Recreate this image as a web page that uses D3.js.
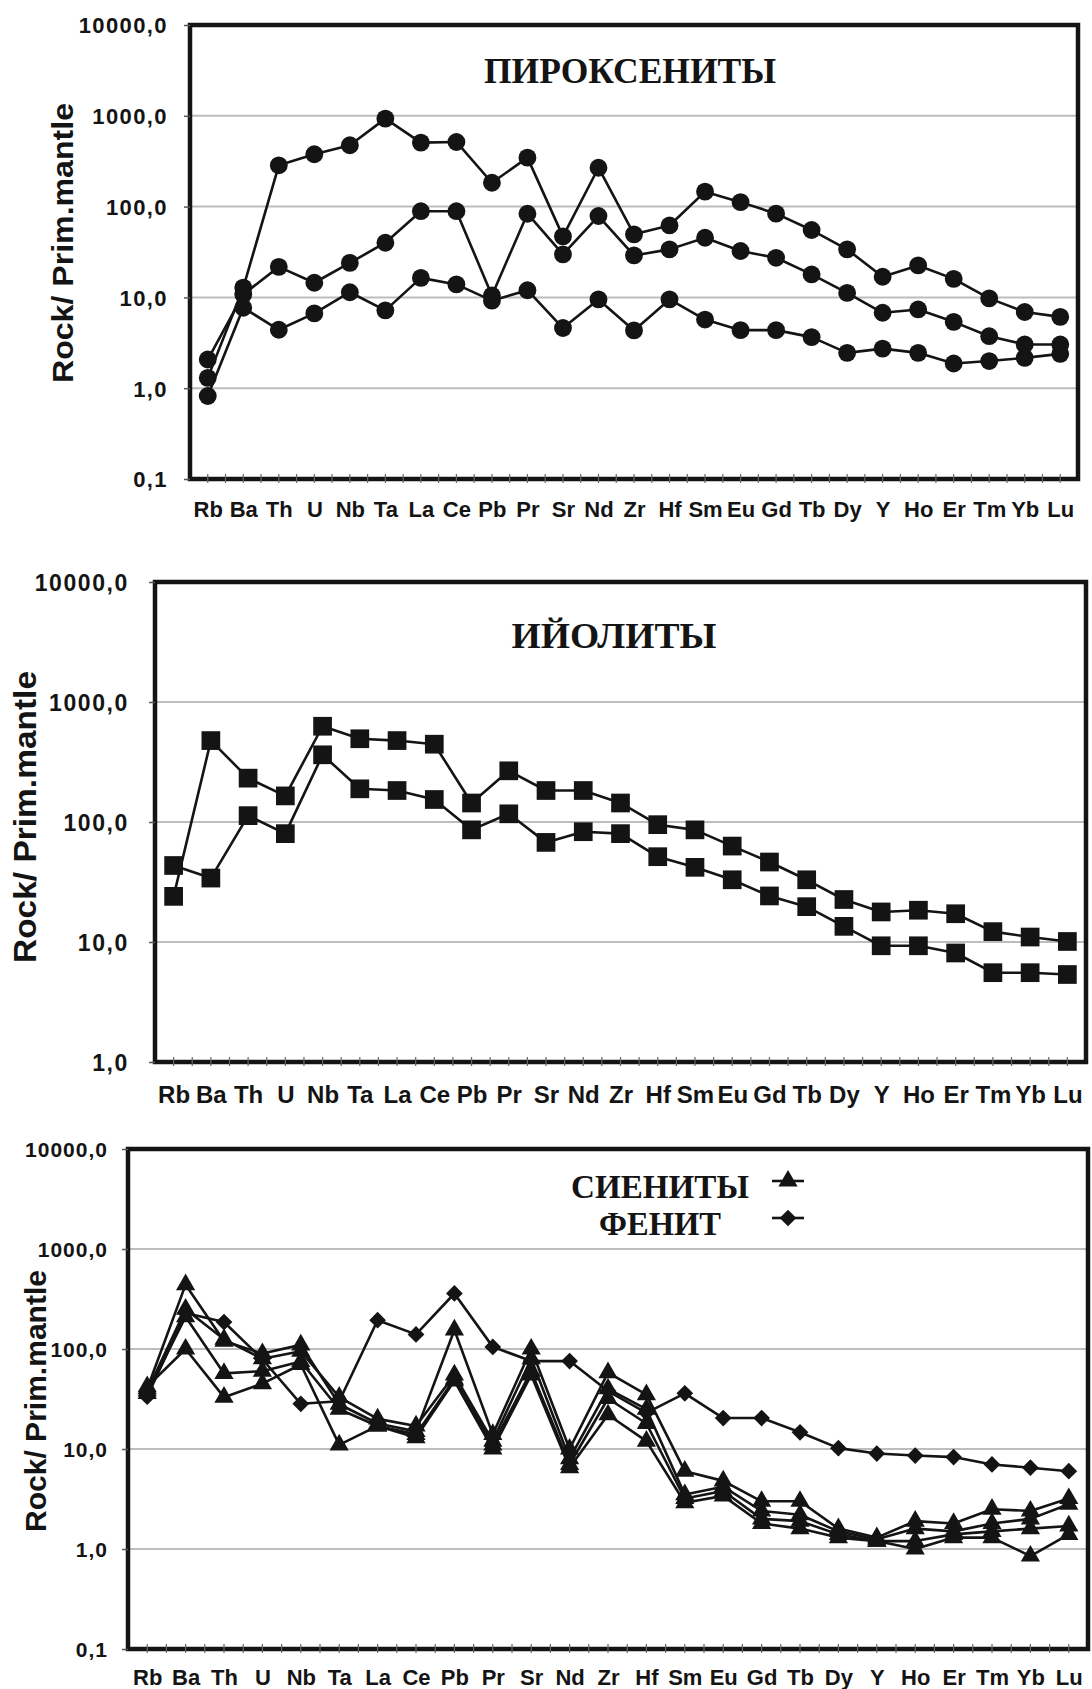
<!DOCTYPE html>
<html><head><meta charset="utf-8">
<script src="https://cdn.jsdelivr.net/npm/d3@7"></script>
<style>
body{margin:0;background:#fff}
svg{display:block}
</style>
</head><body>
<svg id="chart" width="1092" height="1689"></svg>
<script>
// Spider diagrams: trace elements normalised to primitive mantle
const categories = ["Rb","Ba","Th","U","Nb","Ta","La","Ce","Pb","Pr","Sr","Nd","Zr","Hf","Sm","Eu","Gd","Tb","Dy","Y","Ho","Er","Tm","Yb","Lu"];

// Pyroxenites
const pyroxeniteA = [1.3, 12.8, 285, 377, 474, 931, 507, 515, 183, 346, 47, 268, 49.5, 62, 146, 112, 83.6, 55.2, 33.8, 16.9, 22.5, 16.0, 9.75, 6.9, 6.1];
const pyroxeniteB = [2.07, 10.8, 21.7, 14.5, 24, 40, 89, 89, 10.5, 83.5, 29.8, 78.7, 29, 33.8, 45.4, 32.4, 27.3, 17.9, 11.2, 6.77, 7.37, 5.38, 3.74, 3.03, 3.03];
const pyroxeniteC = [0.82, 7.7, 4.4, 6.66, 11.4, 7.2, 16.4, 13.9, 9.2, 12.0, 4.6, 9.5, 4.33, 9.5, 5.7, 4.36, 4.36, 3.65, 2.45, 2.73, 2.45, 1.87, 1.99, 2.16, 2.39];

// Ijolites
const ijoliteA = [24, 477, 232, 165, 628, 494, 477, 445, 144, 267, 183, 183, 144, 95, 86, 63, 46.4, 33, 22.6, 17.8, 18.4, 17.2, 12.2, 11.0, 10.1];
const ijoliteB = [43.4, 34.1, 113, 80, 363, 189, 183, 154, 86, 117, 67.6, 83, 80, 51.4, 41.9, 33, 24.2, 19.7, 13.5, 9.3, 9.3, 8.1, 5.55, 5.55, 5.36];

// Syenites
const syeniteA = [40, 440, 120, 90, 110, 28, 18, 15, 155, 14, 100, 10, 58, 35, 6.0, 4.8, 3.0, 3.0, 1.6, 1.3, 1.9, 1.8, 2.5, 2.4, 3.2];
const syeniteB = [38, 250, 125, 80, 95, 33, 20, 17, 55, 12, 80, 8, 40, 25, 3.5, 4.2, 2.4, 2.2, 1.5, 1.25, 1.6, 1.5, 1.8, 2.0, 2.8];
const syeniteC = [36, 210, 57, 60, 75, 25, 17, 14, 50, 11, 60, 7, 32, 18, 3.2, 3.8, 2.0, 1.9, 1.4, 1.2, 1.2, 1.4, 1.5, 1.6, 1.7];
const syeniteD = [42, 100, 33, 45, 70, 11, 17, 13, 48, 10, 55, 6.5, 22, 12, 2.9, 3.4, 1.8, 1.6, 1.3, 1.2, 1.0, 1.3, 1.3, 0.85, 1.4];
// Fenite
const fenite = [33.4, 229, 186, 79, 28.3, 30, 194, 140, 359, 105, 75.7, 75.7, 38, 23, 36, 20.4, 20.4, 14.7, 10.2, 9.0, 8.6, 8.3, 7.0, 6.5, 6.0];

// Axis ticks
const yTicksWide = [0.1, 1, 10, 100, 1000, 10000];
const yTickLabelsWide = ["0,1", "1,0", "10,0", "100,0", "1000,0", "10000,0"];
const yTicksNarrow = [1, 10, 100, 1000, 10000];
const yTickLabelsNarrow = ["1,0", "10,0", "100,0", "1000,0", "10000,0"];

const yTitle = "Rock/ Prim.mantle";

const svg = d3.select("#chart");
const INK = "#141414";

const panels = [
  { left:190, right:1078, top:25, bottom:479, ticks:yTicksWide, labels:yTickLabelsWide,
    tickFont:22, tickSpacing:1.4, tickGap:22, catFont:22, catBase:517,
    yTitle:{x:62, y:243, len:280, size:30},
    title:{text:"ПИРОКСЕНИТЫ", x:630, y:83, len:292, size:35},
    series:[pyroxeniteA, pyroxeniteB, pyroxeniteC].map(v => ({values:v, shape:"circle"})) },
  { left:155, right:1086, top:582, bottom:1062, ticks:yTicksNarrow, labels:yTickLabelsNarrow,
    tickFont:23, tickSpacing:1.6, tickGap:26, catFont:24, catBase:1103,
    yTitle:{x:25, y:817, len:292, size:31},
    title:{text:"ИЙОЛИТЫ", x:614, y:648, len:205, size:35},
    series:[ijoliteA, ijoliteB].map(v => ({values:v, shape:"square"})) },
  { left:128, right:1088, top:1149, bottom:1649, ticks:yTicksWide, labels:yTickLabelsWide,
    tickFont:21, tickSpacing:1.0, tickGap:20, catFont:22, catBase:1685,
    yTitle:{x:36, y:1401, len:262, size:29},
    title:null,
    series:[syeniteA, syeniteB, syeniteC, syeniteD].map(v => ({values:v, shape:"triangle"}))
      .concat([{values:fenite, shape:"diamond"}]) }
];

function markerPath(shape) {
  if (shape === "circle") return d3.symbol(d3.symbolCircle, 250)();
  if (shape === "square") return d3.symbol(d3.symbolSquare, 350)();
  if (shape === "triangle") return d3.symbol(d3.symbolTriangle, 160)();
  return d3.symbol(d3.symbolSquare, 140)();
}
function markerRotate(shape) { return shape === "diamond" ? " rotate(45)" : ""; }

panels.forEach(p => {
  const g = svg.append("g");
  const x = d3.scalePoint().domain(categories).range([p.left, p.right]).padding(0.5);
  const y = d3.scaleLog().domain([p.ticks[0], p.ticks[p.ticks.length - 1]]).range([p.bottom, p.top]);

  // horizontal gridlines
  g.append("g").selectAll("line")
    .data(p.ticks.slice(1, -1))
    .join("line")
    .attr("x1", p.left).attr("x2", p.right)
    .attr("y1", d => y(d)).attr("y2", d => y(d))
    .attr("stroke", "#bdbdbd").attr("stroke-width", 2);

  // series lines then markers
  const line = d3.line().x((d, i) => x(categories[i])).y(d => y(d));
  p.series.forEach(s => {
    g.append("path").datum(s.values)
      .attr("d", line).attr("fill", "none")
      .attr("stroke", INK).attr("stroke-width", 2.6).attr("stroke-linejoin", "round");
  });
  p.series.forEach(s => {
    g.append("g").selectAll("path")
      .data(s.values)
      .join("path")
      .attr("d", markerPath(s.shape))
      .attr("transform", (d, i) => `translate(${x(categories[i])},${y(d)})${markerRotate(s.shape)}`)
      .attr("fill", INK);
  });

  // frame
  g.append("rect")
    .attr("x", p.left).attr("y", p.top)
    .attr("width", p.right - p.left).attr("height", p.bottom - p.top)
    .attr("fill", "none").attr("stroke", INK).attr("stroke-width", 4.5);

  // y axis
  const yAxis = d3.axisLeft(y).tickValues(p.ticks)
    .tickFormat((d, i) => p.labels[i]).tickSize(6).tickPadding(p.tickGap - 6);
  const ya = g.append("g").attr("transform", `translate(${p.left},0)`).call(yAxis);
  ya.select(".domain").remove();
  ya.selectAll(".tick line").attr("stroke", "#555").attr("stroke-width", 1.5);
  ya.selectAll(".tick text")
    .attr("font-family", "'Liberation Sans', Arial, sans-serif")
    .attr("font-weight", "bold").attr("font-size", p.tickFont).attr("fill", INK)
    .attr("letter-spacing", p.tickSpacing)
    .attr("dy", "0.36em");

  // x axis: category labels
  const xAxis = d3.axisBottom(x).tickSize(0).tickPadding(0);
  const xa = g.append("g").attr("transform", `translate(0,${p.bottom})`).call(xAxis);
  xa.select(".domain").remove();
  xa.selectAll(".tick text")
    .attr("font-family", "'Liberation Sans', Arial, sans-serif")
    .attr("font-weight", "bold").attr("font-size", p.catFont).attr("fill", INK)
    .attr("y", p.catBase - p.bottom).attr("dy", 0);

  // minor tick marks at category centres and boundaries
  const step = x.step();
  const minor = [];
  categories.forEach(c => { minor.push(x(c)); minor.push(x(c) + step / 2); });
  g.append("g").selectAll("line")
    .data(minor.filter(v => v < p.right - 2))
    .join("line")
    .attr("x1", d => d).attr("x2", d => d)
    .attr("y1", p.bottom - 5).attr("y2", p.bottom + 4)
    .attr("stroke", "#666").attr("stroke-width", 1.2);

  // rotated y title
  g.append("text")
    .attr("transform", `translate(${p.yTitle.x},${p.yTitle.y}) rotate(-90)`)
    .attr("text-anchor", "middle").attr("dy", "0.36em")
    .attr("font-family", "'Liberation Sans', Arial, sans-serif")
    .attr("font-weight", "bold").attr("font-size", p.yTitle.size)
    .attr("textLength", p.yTitle.len).attr("lengthAdjust", "spacingAndGlyphs")
    .attr("fill", INK).text(yTitle);

  // panel title
  if (p.title) {
    g.append("text")
      .attr("x", p.title.x).attr("y", p.title.y).attr("text-anchor", "middle")
      .attr("font-family", "'Liberation Serif', 'Times New Roman', serif")
      .attr("font-weight", "bold").attr("font-size", p.title.size)
      .attr("textLength", p.title.len).attr("lengthAdjust", "spacingAndGlyphs")
      .attr("fill", INK).text(p.title.text);
  }
});

// legend for the lower panel
const legendItems = [
  { label: "СИЕНИТЫ", shape: "triangle", y: 1198, len: 178 },
  { label: "ФЕНИТ", shape: "diamond", y: 1235, len: 122 }
];
const lg = svg.append("g");
legendItems.forEach(it => {
  lg.append("text")
    .attr("x", 660).attr("y", it.y).attr("text-anchor", "middle")
    .attr("font-family", "'Liberation Serif', 'Times New Roman', serif")
    .attr("font-weight", "bold").attr("font-size", 33)
    .attr("textLength", it.len).attr("lengthAdjust", "spacingAndGlyphs")
    .attr("fill", INK).text(it.label);
  const my = it.y - 17;
  lg.append("line").attr("x1", 772).attr("x2", 804).attr("y1", my).attr("y2", my)
    .attr("stroke", INK).attr("stroke-width", 2.6);
  lg.append("path").attr("d", markerPath(it.shape))
    .attr("transform", `translate(788,${my})${markerRotate(it.shape)}`)
    .attr("fill", INK);
});
</script>
</body></html>
